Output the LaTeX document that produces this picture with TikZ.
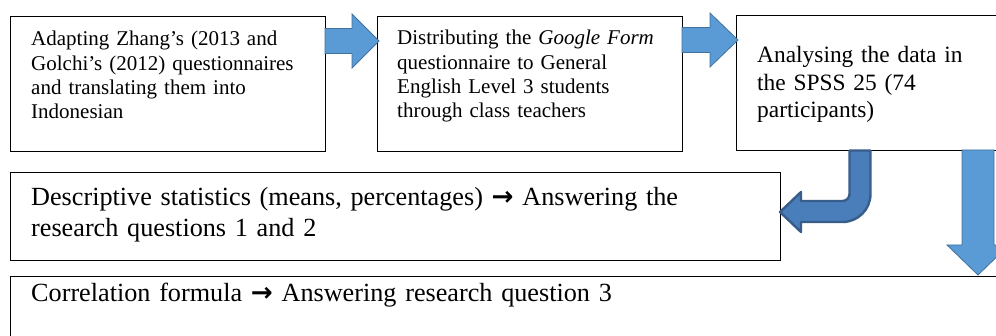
\documentclass[tikz,border=0pt]{standalone}
\usepackage{fontspec}
\setmainfont{Liberation Serif}
\newfontfamily\arrowfont{DejaVu Sans}
\newcommand\myarr{{\arrowfont\bfseries\char"2192}}
\definecolor{arrfill}{HTML}{5B9BD5}
\definecolor{arrline}{HTML}{41719C}
\definecolor{bentfill}{HTML}{4A7EBB}
\definecolor{bentline}{HTML}{385D8A}
\tikzset{
  box/.style={draw=black, line width=0.8pt, fill=white, inner sep=0pt, anchor=north west},
  txt/.style={anchor=base west, inner sep=0pt, align=left},
  small/.style={font=\fontsize{21}{24.3}\selectfont},
  mid/.style={font=\fontsize{23.4}{27.5}\selectfont},
  large/.style={font=\fontsize{26.2}{31}\selectfont},
  blockarrow/.style={fill=arrfill, draw=arrline, line width=0.8pt, line join=miter},
  bentarrow/.style={fill=bentfill, draw=bentline, line width=2.4pt, line join=round}
}
\begin{document}
\begin{tikzpicture}[x=1pt,y=-1pt]
\useasboundingbox (0,0) rectangle (996,336);
\clip (0,0) rectangle (996,336);
% boxes
\node[box, minimum width=315pt, minimum height=135pt] (b1) at (10,16) {};
\node[box, minimum width=305pt, minimum height=135pt] (b2) at (377,16) {};
\node[box, minimum width=280pt, minimum height=135pt] (b3) at (736,15) {};
\node[box, minimum width=770pt, minimum height=88pt] (b4) at (10,172) {};
\node[box, minimum width=1010pt, minimum height=80pt] (b5) at (10,276) {};
% texts
\node[txt, small, text width=290pt] (t1) at (31,46) {Adapting Zhang’s (2013 and\\Golchi’s (2012) questionnaires\\and translating them into\\Indonesian};
\node[txt, small, text width=285pt] (t2) at (397,45) {Distributing the \textit{Google Form}\\questionnaire to General\\English Level 3 students\\through class teachers};
\node[txt, mid, text width=230pt] (t3) at (757,63) {Analysing the data in\\the SPSS 25 (74\\participants)};
\node[txt, large, text width=740pt] (t4) at (31,206) {Descriptive statistics (means, percentages) \myarr{} Answering the\\research questions 1 and 2};
\node[txt, large, text width=900pt] (t5) at (31,302) {Correlation formula \myarr{} Answering research question 3};
% block arrows
\draw[blockarrow] (325,28.5) -- (352,28.5) -- (352,14) -- (379,41) -- (352,68) -- (352,53.5) -- (325,53.5) -- cycle;
\draw[blockarrow] (682,27.5) -- (710,27.5) -- (710,13) -- (738,40) -- (710,67) -- (710,52.5) -- (682,52.5) -- cycle;
\draw[bentarrow] (780,212) -- (801,192) -- (801,201) -- (842.5,201)
  .. controls (846.37,201) and (849.5,197.87) .. (849.5,194) -- (849.5,150.5) -- (870.5,150.5) -- (870.5,194)
  .. controls (870.5,209.46) and (857.96,222) .. (842.5,222) -- (801,222) -- (801,232) -- cycle;
\draw[blockarrow] (962,150) -- (994,150) -- (994,245) -- (1009,245) -- (978,275) -- (947,245) -- (962,245) -- cycle;
\end{tikzpicture}
\end{document}
